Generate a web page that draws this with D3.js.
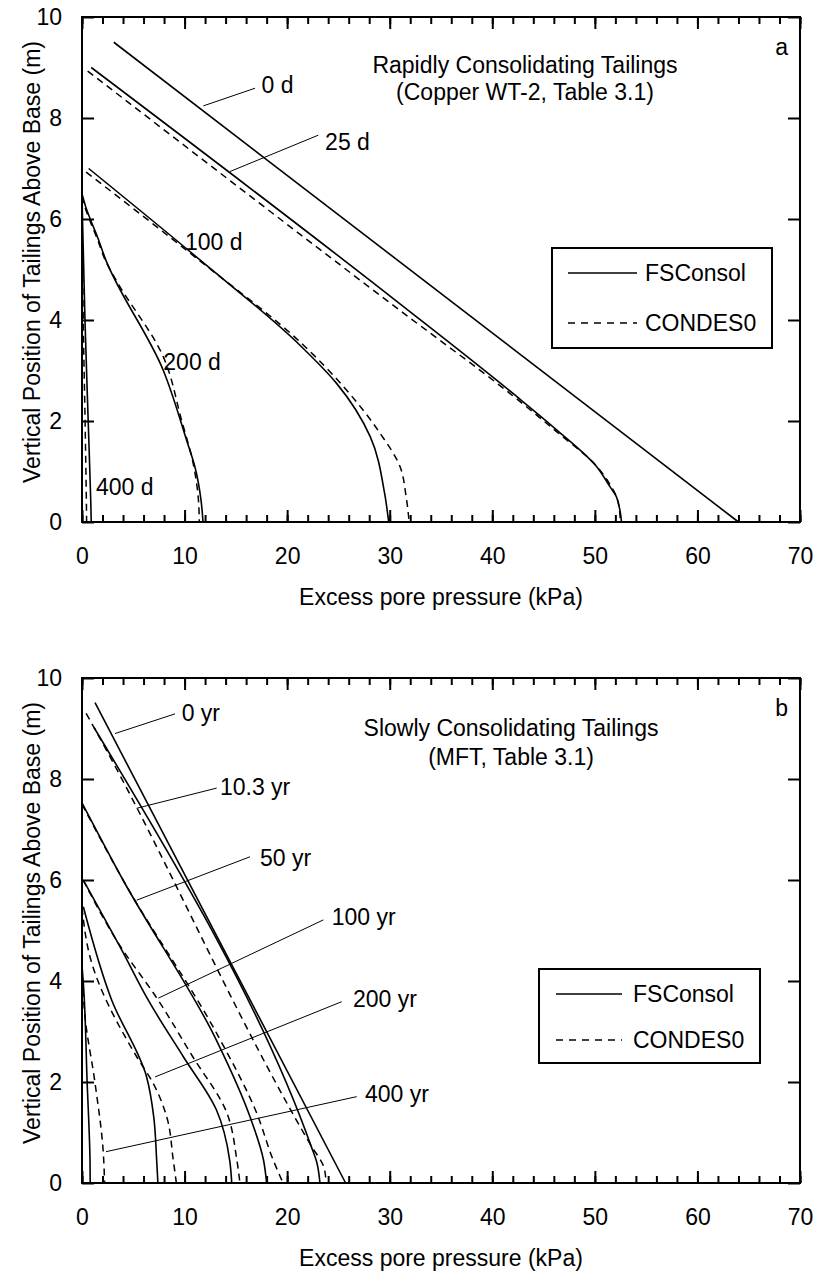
<!DOCTYPE html>
<html>
<head>
<meta charset="utf-8">
<script src="https://cdn.jsdelivr.net/npm/d3@7"></script>
<style>
  body { margin: 0; background: #fff; }
  svg { display: block; }
  text { font-family: "Liberation Sans", Arial, sans-serif; fill: #000; }
</style>
</head>
<body>
<svg id="fig" width="816" height="1274"></svg>
<script>
// ---------- shared axis content ----------
const xMajorTicks = [0, 10, 20, 30, 40, 50, 60, 70];
const xMinorTicks = d3.range(0, 70.001, 2);
const yMajorTicks = [0, 2, 4, 6, 8, 10];
const xTitle = "Excess pore pressure (kPa)";
const yTitle = "Vertical Position of Tailings Above Base (m)";
const legendNames = ["FSConsol", "CONDES0"];

// ---------- panel a: copper tailings, profiles as [kPa, m] ----------
const copperTitle = ["Rapidly Consolidating Tailings", "(Copper WT-2, Table 3.1)"];
const copperTimes = ["0 d", "25 d", "100 d", "200 d", "400 d"];
const copperFS_0d   = [[3.1, 9.5], [64.0, 0]];
const copperFS_25d  = [[0.9, 9.0], [31.0, 4.32], [42.05, 2.54], [46.3, 1.82], [50.2, 1.09], [51.5, 0.69], [52.1, 0.5], [52.6, 0]];
const copperFS_100d = [[0.65, 7.0], [11.5, 5.19], [21.25, 3.5], [24.8, 2.75], [28.1, 1.69], [29.5, 0.57], [29.9, 0]];
const copperFS_200d = [[0.0, 6.5], [0.35, 6.25], [0.8, 6.0], [1.5, 5.65], [2.3, 5.2], [7.93, 3.0], [10.2, 1.62], [11.0, 1.1], [11.6, 0.44], [11.8, 0]];
const copperFS_400d = [[0.0, 6.45], [0.29, 4.0], [0.6, 2.02], [0.85, 0.44], [0.9, 0]];
const copperCD_25d  = [[0.55, 8.93], [30.8, 4.22], [42.0, 2.5], [46.2, 1.8], [50.2, 1.1], [51.6, 0.7], [52.2, 0.45], [52.5, 0]];
const copperCD_100d = [[0.4, 6.93], [11.5, 5.17], [21.5, 3.52], [25.5, 2.68], [29.05, 1.76], [31.0, 1.1], [31.6, 0.5], [31.9, 0]];
const copperCD_200d = [[0.0, 6.45], [0.35, 6.2], [0.8, 5.95], [1.5, 5.6], [2.3, 5.17], [3.38, 4.77], [7.93, 3.27], [9.7, 2.02], [10.9, 1.1], [11.35, 0.44], [11.44, 0]];
const copperCD_400d = [[0.0, 6.3], [0.12, 4.0], [0.3, 2.0], [0.42, 0.5], [0.45, 0]];

// ---------- panel b: MFT, profiles as [kPa, m] ----------
const mftTitle = ["Slowly Consolidating Tailings", "(MFT, Table 3.1)"];
const mftTimes = ["0 yr", "10.3 yr", "50 yr", "100 yr", "200 yr", "400 yr"];
const mftFS_0   = [[1.27, 9.51], [25.7, 0]];
const mftFS_10  = [[1.17, 9.02], [22.3, 0.75], [22.9, 0.4], [23.2, 0]];
const mftFS_50  = [[0.02, 7.52], [4.0, 6.0], [13.1, 2.83], [16.4, 1.3], [17.7, 0.45], [18.0, 0]];
const mftFS_100 = [[0.13, 6.0], [3.7, 4.68], [6.63, 3.56], [9.88, 2.5], [13.1, 1.45], [14.4, 0.45], [14.6, 0]];
const mftFS_200 = [[0.13, 5.47], [2.9, 3.62], [6.3, 2.1], [7.0, 1.3], [7.28, 0.45], [7.4, 0]];
const mftFS_400 = [[0.0, 4.3], [0.13, 3.96], [0.5, 2.0], [0.78, 0.45], [0.8, 0]];
const mftCD_10  = [[0.4, 9.3], [1.17, 9.02], [22.3, 0.75], [23.6, 0.3], [23.8, 0]];
const mftCD_50  = [[0.0, 7.5], [4.0, 6.0], [13.3, 2.9], [17.0, 1.4], [18.65, 0.45], [19.6, 0]];
const mftCD_100 = [[0.1, 6.0], [3.7, 4.7], [7.3, 3.66], [10.8, 2.5], [14.1, 1.4], [15.1, 0.45], [15.4, 0]];
const mftCD_200 = [[0.0, 5.45], [0.78, 4.48], [5.33, 2.5], [6.95, 1.97], [8.26, 1.31], [8.9, 0.45], [9.2, 0]];
const mftCD_400 = [[0.0, 4.3], [0.29, 3.3], [1.27, 1.98], [2.08, 0.59], [2.2, 0]];

// ---------- page layout ----------
const fontSize = 23;
const frameLeft = 82, frameRight = 800, frameH = 505;

const panels = [
  {
    top: 17,
    tag: "a",
    title: copperTitle,
    titleX: 525, titleDy: [48, 75],
    solid: [copperFS_0d, copperFS_25d, copperFS_100d, copperFS_200d, copperFS_400d],
    dashed: [copperCD_25d, copperCD_100d, copperCD_200d, copperCD_400d],
    // time labels: text anchor point [kPa, m] and optional leader [from, to]
    labels: [
      { text: copperTimes[0], at: [17.5, 8.65], leader: [[11.83, 8.24], [16.87, 8.59]] },
      { text: copperTimes[1], at: [23.7, 7.53], leader: [[14.43, 6.94], [23.04, 7.66]] },
      { text: copperTimes[2], at: [10.04, 5.55] },
      { text: copperTimes[3], at: [7.93, 3.17] },
      { text: copperTimes[4], at: [1.36, 0.69] }
    ],
    legend: { x: 552, dy: 231, w: 220, h: 100, row: [25, 75], lineX: [16, 85], textX: 93 }
  },
  {
    top: 678,
    tag: "b",
    title: mftTitle,
    titleX: 511, titleDy: [50, 79],
    solid: [mftFS_0, mftFS_10, mftFS_50, mftFS_100, mftFS_200, mftFS_400],
    dashed: [mftCD_10, mftCD_50, mftCD_100, mftCD_200, mftCD_400],
    labels: [
      { text: mftTimes[0], at: [9.72, 9.3],  leader: [[3.22, 8.9],  [9.07, 9.29]] },
      { text: mftTimes[1], at: [13.45, 7.85], leader: [[5.33, 7.42], [13.13, 7.82]] },
      { text: mftTimes[2], at: [17.35, 6.43], leader: [[5.33, 5.6],  [16.38, 6.46]] },
      { text: mftTimes[3], at: [24.34, 5.26], leader: [[7.44, 3.66], [23.53, 5.21]] },
      { text: mftTimes[4], at: [26.42, 3.64], leader: [[7.12, 2.1],  [25.32, 3.59]] },
      { text: mftTimes[5], at: [27.59, 1.76], leader: [[2.34, 0.62], [26.78, 1.71]] }
    ],
    legend: { x: 539, dy: 291, w: 221, h: 94, row: [25, 71], lineX: [17, 83], textX: 94 }
  }
];

const svg = d3.select("#fig");

panels.forEach(p => {
  const top = p.top, bottom = p.top + frameH;
  const x = d3.scaleLinear().domain([0, 70]).range([frameLeft, frameRight]);
  const y = d3.scaleLinear().domain([0, 10]).range([bottom, top]);
  const g = svg.append("g");

  const line = d3.line()
    .x(d => x(d[0]))
    .y(d => y(d[1]))
    .curve(d3.curveMonotoneY);

  // profiles: CONDES0 dashed underneath, FSConsol solid on top
  g.append("g").selectAll("path").data(p.dashed).join("path")
    .attr("d", line).attr("fill", "none").attr("stroke", "#000")
    .attr("stroke-width", 1.5).attr("stroke-dasharray", "7,5");
  g.append("g").selectAll("path").data(p.solid).join("path")
    .attr("d", line).attr("fill", "none").attr("stroke", "#000")
    .attr("stroke-width", 1.6);

  // axes with inward ticks
  const styleAxis = sel => {
    sel.select(".domain").remove();
    sel.selectAll(".tick line").attr("stroke", "#000").attr("stroke-width", 2);
    sel.selectAll(".tick text").attr("font-size", fontSize)
      .attr("font-family", "Liberation Sans, Arial, sans-serif").attr("fill", "#000");
  };
  g.append("g").attr("transform", `translate(0,${bottom})`)
    .call(d3.axisBottom(x).tickValues(xMinorTicks).tickSize(-7).tickFormat(""))
    .call(styleAxis);
  g.append("g").attr("transform", `translate(0,${bottom})`)
    .call(d3.axisBottom(x).tickValues(xMajorTicks).tickSize(-12).tickPadding(26).tickFormat(d3.format("d")))
    .call(styleAxis);
  g.append("g").attr("transform", `translate(0,${top})`)
    .call(d3.axisTop(x).tickValues(xMinorTicks).tickSize(-7).tickFormat(""))
    .call(styleAxis);
  g.append("g").attr("transform", `translate(0,${top})`)
    .call(d3.axisTop(x).tickValues(xMajorTicks).tickSize(-12).tickFormat(""))
    .call(styleAxis);
  g.append("g").attr("transform", `translate(${frameLeft},0)`)
    .call(d3.axisLeft(y).tickValues(yMajorTicks).tickSize(-12).tickPadding(20).tickFormat(d3.format("d")))
    .call(styleAxis);
  g.append("g").attr("transform", `translate(${frameRight},0)`)
    .call(d3.axisRight(y).tickValues(yMajorTicks).tickSize(-12).tickFormat(""))
    .call(styleAxis);

  // frame
  g.append("rect").attr("x", frameLeft).attr("y", top)
    .attr("width", frameRight - frameLeft).attr("height", frameH)
    .attr("fill", "none").attr("stroke", "#000").attr("stroke-width", 2);

  // axis titles
  g.append("text").attr("x", (frameLeft + frameRight) / 2).attr("y", bottom + 75)
    .attr("dy", "0.35em").attr("text-anchor", "middle").attr("font-size", fontSize)
    .text(xTitle);
  g.append("text")
    .attr("transform", `translate(32,${top + 245}) rotate(-90)`)
    .attr("dy", "0.35em").attr("text-anchor", "middle").attr("font-size", fontSize)
    .text(yTitle);

  // panel heading and tag
  p.title.forEach((t, i) => {
    g.append("text").attr("x", p.titleX).attr("y", top + p.titleDy[i])
      .attr("dy", "0.35em").attr("text-anchor", "middle").attr("font-size", fontSize)
      .text(t);
  });
  g.append("text").attr("x", 788).attr("y", top + 30)
    .attr("dy", "0.35em").attr("text-anchor", "end").attr("font-size", fontSize)
    .text(p.tag);

  // time labels with leaders
  p.labels.forEach(l => {
    if (l.leader) {
      g.append("line")
        .attr("x1", x(l.leader[0][0])).attr("y1", y(l.leader[0][1]))
        .attr("x2", x(l.leader[1][0])).attr("y2", y(l.leader[1][1]))
        .attr("stroke", "#000").attr("stroke-width", 1);
    }
    g.append("text").attr("x", x(l.at[0])).attr("y", y(l.at[1]))
      .attr("dy", "0.35em").attr("font-size", fontSize).text(l.text);
  });

  // legend
  const L = p.legend;
  const lg = g.append("g").attr("transform", `translate(${L.x},${top + L.dy})`);
  lg.append("rect").attr("width", L.w).attr("height", L.h)
    .attr("fill", "#fff").attr("stroke", "#000").attr("stroke-width", 2);
  legendNames.forEach((name, i) => {
    lg.append("line").attr("x1", L.lineX[0]).attr("x2", L.lineX[1])
      .attr("y1", L.row[i]).attr("y2", L.row[i])
      .attr("stroke", "#000").attr("stroke-width", 1.6)
      .attr("stroke-dasharray", i === 1 ? "7,6" : null);
    lg.append("text").attr("x", L.textX).attr("y", L.row[i])
      .attr("dy", "0.35em").attr("font-size", fontSize).text(name);
  });
});
</script>
</body>
</html>
